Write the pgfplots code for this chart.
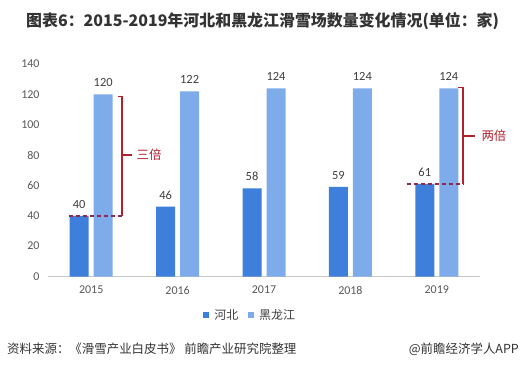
\documentclass[border=0pt]{standalone}
\usepackage{pgfplots}
\pgfplotsset{compat=1.18}
\usepackage{fontspec}
\setmainfont{Noto Sans CJK SC}
\newfontfamily\numfont{Carlito}
\definecolor{darkbar}{HTML}{3D7FDB}
\definecolor{lightbar}{HTML}{7EACEA}
\definecolor{annot}{HTML}{B3202E}
\definecolor{dashc}{HTML}{8E2A4E}
\definecolor{txt}{HTML}{404040}
\definecolor{tick}{HTML}{595959}
\definecolor{titlec}{HTML}{333333}
\begin{document}
\begin{tikzpicture}
\path[fill=white,use as bounding box] (0bp,0bp) rectangle (529bp,-378bp);
\node[font=\fontsize{16}{18}\selectfont\bfseries,text=titlec,anchor=west,inner sep=0pt] at (26bp,-21bp) {图表6：2015-2019年河北和黑龙江滑雪场数量变化情况(单位：家)};
\begin{axis}[
  at={(48bp,-276.5bp)}, anchor=south west,
  scale only axis, width=432bp, height=212.5bp,
  xmin=-0.5, xmax=4.5, ymin=0, ymax=140,
  ybar=5bp, bar width=19bp,
  clip=false,
  axis lines=left,
  axis line style={-},
  x axis line style={draw=black!22},
  y axis line style={draw=none},
  major tick length=0pt,
  xtick={0,1,2,3,4},
  xticklabels={2015,2016,2017,2018,2019},
  ytick={0,20,40,60,80,100,120,140},
  /pgf/number format/assume math mode=true,
  ticklabel style={font=\numfont\fontsize{12}{14}\selectfont, text=tick},
  yticklabel style={xshift=-5bp},
  xticklabel style={yshift=-6bp},
  nodes near coords,
  every node near coord/.append style={font=\numfont\fontsize{12.5}{14}\selectfont, text=txt, yshift=4bp},
  legend columns=2,
  legend style={at={(rel axis cs:0.468,-0.181)}, anchor=center, draw=none, fill=none,
    font=\fontsize{12}{14}\selectfont, text=txt, column sep=3bp,
    /tikz/every even column/.append style={column sep=8bp}},
  legend image code/.code={\fill[#1] (0bp,-3bp) rectangle (6bp,3bp);},
]
\addplot[fill=darkbar, draw=none] coordinates {(0,40) (1,46) (2,58) (3,59) (4,61)};
\addplot[fill=lightbar, draw=none] coordinates {(0,120) (1,122) (2,124) (3,124) (4,124)};
\legend{河北,黑龙江}
% annotations 2015
\draw[dashc, line width=1.7pt, dash pattern=on 4.5bp off 2.5bp] (axis cs:-0.257,40) -- (axis cs:0.356,40);
\draw[annot, line width=1.4pt] (axis cs:0.31,118.5) -- (axis cs:0.356,118.5) -- (axis cs:0.356,40);
\draw[annot, line width=1.4pt] (axis cs:0.356,80) -- (axis cs:0.472,80);
\node[text=annot, font=\fontsize{12.5}{14}\selectfont] at (axis cs:0.669,80) {三倍};
% annotations 2019
\draw[dashc, line width=1.7pt, dash pattern=on 4.5bp off 2.5bp] (axis cs:3.652,61) -- (axis cs:4.303,61);
\draw[annot, line width=1.4pt] (axis cs:4.25,124.5) -- (axis cs:4.303,124.5) -- (axis cs:4.303,61);
\draw[annot, line width=1.4pt] (axis cs:4.303,92.5) -- (axis cs:4.442,92.5);
\node[text=annot, font=\fontsize{12.5}{14}\selectfont] at (axis cs:4.662,92.5) {两倍};
\end{axis}
\node[font=\fontsize{12.5}{14}\selectfont,text=titlec,anchor=west,inner sep=0pt] at (7bp,-349bp) {资料来源：《滑雪产业白皮书》 前瞻产业研究院整理};
\node[font=\fontsize{12.5}{14}\selectfont,text=titlec,anchor=east,inner sep=0pt] at (519bp,-349bp) {@前瞻经济学人APP};
\end{tikzpicture}
\end{document}
